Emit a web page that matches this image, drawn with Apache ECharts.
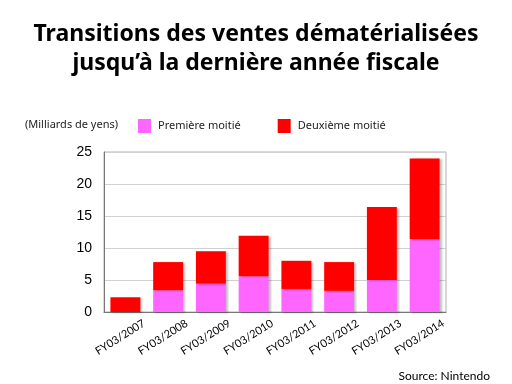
<!DOCTYPE html>
<html><head><meta charset="utf-8">
<script src="https://cdn.jsdelivr.net/npm/echarts@6/dist/echarts.min.js"></script>
<style>html,body{margin:0;padding:0;background:#fff}#c{width:512px;height:384px}</style>
</head><body><div id="c"></div>
<script>
const categories = ['FY03/2007','FY03/2008','FY03/2009','FY03/2010','FY03/2011','FY03/2012','FY03/2013','FY03/2014'];
const firstHalf = [0, 3.4, 4.4, 5.6, 3.6, 3.3, 5.0, 11.4];
const secondHalf = [2.3, 4.4, 5.1, 6.3, 4.4, 4.5, 11.4, 12.6];
const yTicks = [0, 5, 10, 15, 20, 25];
const seriesNames = ['Première moitié', 'Deuxième moitié'];

const chart = echarts.init(document.getElementById('c'), null, {renderer:'canvas'});
const barShadow = {shadowColor:'rgba(0,0,0,0.25)', shadowBlur:2, shadowOffsetX:2, shadowOffsetY:1};
chart.setOption({
  animation:false,
  title:[{
    text:'Transitions des ventes dématérialisées\njusqu’à la dernière année fiscale',
    left:'center', top:20, padding:0,
    textStyle:{fontFamily:'Noto Sans', fontWeight:'bold', fontSize:23, lineHeight:29, color:'#000'}
  },{
    text:'(Milliards de yens)', left:25, top:119, padding:0,
    textStyle:{fontFamily:'Noto Sans', fontWeight:'normal', fontSize:11, color:'#222'}
  },{
    text:'Source: Nintendo', right:22, top:370, padding:0,
    textStyle:{fontFamily:'Lato', fontWeight:'normal', fontSize:12, color:'#000'}
  }],
  legend:{
    data:seriesNames, left:138, top:119, padding:0, itemWidth:13, itemHeight:14, itemGap:37,
    icon:'rect',
    textStyle:{fontFamily:'Noto Sans', fontSize:11, color:'#222', padding:[0,0,0,2]}
  },
  grid:{left:104, right:66, top:152, bottom:72, show:true, borderColor:'#b0b0b0', borderWidth:1, containLabel:false},
  xAxis:{
    type:'category', data:categories,
    axisLine:{lineStyle:{color:'#777', width:1}},
    axisTick:{show:false},
    axisLabel:{rotate:32, fontFamily:'Lato', fontSize:11, color:'#000', margin:22, interval:0,
      padding:[0,-22,0,0]}
  },
  yAxis:{
    type:'value', min:0, max:25, interval:5,
    axisLine:{show:true, lineStyle:{color:'#777'}},
    axisTick:{show:false},
    splitLine:{lineStyle:{color:'#d0d0d0'}},
    axisLabel:{fontFamily:'Liberation Sans', fontSize:14, color:'#000', margin:12,
      formatter:v=>yTicks.includes(v)?String(v):''}
  },
  series:[{
    name:seriesNames[0], type:'bar', stack:'t', data:firstHalf, barWidth:'70%',
    itemStyle:Object.assign({color:'#ff66ff'}, barShadow)
  },{
    name:seriesNames[1], type:'bar', stack:'t', data:secondHalf, barWidth:'70%',
    itemStyle:Object.assign({color:'#ff0000'}, barShadow)
  }]
});
</script></body></html>
